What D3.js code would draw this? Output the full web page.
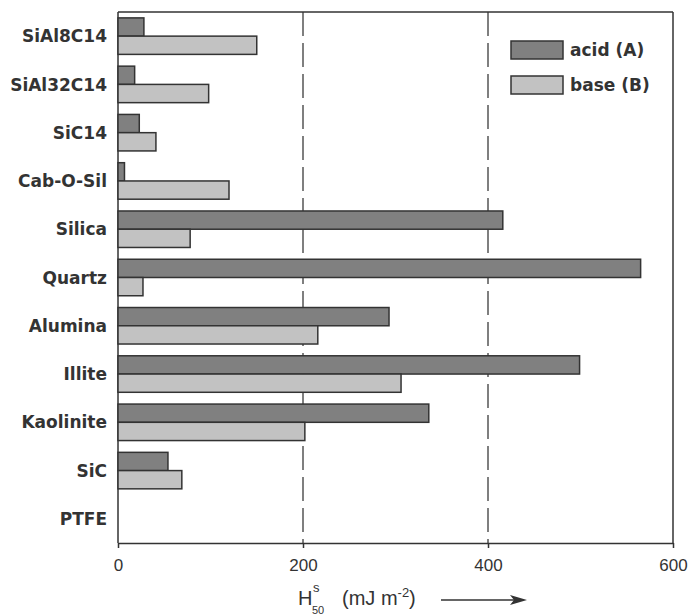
<!DOCTYPE html>
<html>
<head>
<meta charset="utf-8">
<script src="https://cdn.jsdelivr.net/npm/d3@7/dist/d3.min.js"></script>
<style>
  html, body { margin: 0; padding: 0; background: #fff; }
  svg { display: block; }
</style>
</head>
<body>
<svg id="chart" width="690" height="615"></svg>
<script>
const categories = ['SiAl8C14', 'SiAl32C14', 'SiC14', 'Cab-O-Sil', 'Silica', 'Quartz',
  'Alumina', 'Illite', 'Kaolinite', 'SiC', 'PTFE'];
const acidValues = [28, 18, 23, 7, 416, 565, 293, 499, 336, 54, 0];
const baseValues = [150, 98, 41, 120, 78, 27, 216, 306, 202, 69, 0];
const seriesNames = ['acid (A)', 'base (B)'];
const xTicks = [0, 200, 400, 600];
const refLines = [200, 400];

(function drawChart() {
  const margin = { top: 12, right: 17, bottom: 72, left: 118 };
  const width = 690, height = 615;
  const innerW = width - margin.left - margin.right;
  const innerH = height - margin.top - margin.bottom;
  const colors = ['#808080', '#c2c2c2'];
  const ink = '#333';

  const svg = d3.select('#chart');
  const g = svg.append('g').attr('transform', `translate(${margin.left},${margin.top})`);

  const x = d3.scaleLinear().domain([0, 600]).range([0, innerW]);
  const y = d3.scaleBand().domain(categories).range([0, innerH])
    .paddingInner(0.244).paddingOuter(0.122);
  const ySub = d3.scaleBand().domain(seriesNames).range([0, y.bandwidth()]);

  // dashed reference lines
  g.selectAll('line.ref')
    .data(refLines)
    .join('line')
    .attr('class', 'ref')
    .attr('x1', (d) => x(d)).attr('x2', (d) => x(d))
    .attr('y1', 0).attr('y2', innerH)
    .attr('stroke', '#555')
    .attr('stroke-width', 1.5)
    .attr('stroke-dasharray', '24,7');

  // frame
  g.append('line').attr('x1', 0).attr('x2', innerW).attr('y1', 0).attr('y2', 0)
    .attr('stroke', ink).attr('stroke-width', 1.5);
  g.append('line').attr('x1', innerW).attr('x2', innerW).attr('y1', 0).attr('y2', innerH)
    .attr('stroke', ink).attr('stroke-width', 1.5);
  g.append('line').attr('x1', 0).attr('x2', 0).attr('y1', 0).attr('y2', innerH)
    .attr('stroke', ink).attr('stroke-width', 1.5);

  // bars
  const rows = categories.map((c, i) => ({ cat: c, vals: [acidValues[i], baseValues[i]] }));
  const groups = g.selectAll('g.row')
    .data(rows)
    .join('g')
    .attr('class', 'row')
    .attr('transform', (d) => `translate(0,${y(d.cat)})`);

  groups.selectAll('rect')
    .data((d) => d.vals.map((v, k) => ({ v, k })).filter((e) => e.v > 0))
    .join('rect')
    .attr('x', 0)
    .attr('y', (e) => ySub(seriesNames[e.k]))
    .attr('width', (e) => x(e.v))
    .attr('height', ySub.bandwidth())
    .attr('fill', (e) => colors[e.k])
    .attr('stroke', ink)
    .attr('stroke-width', 1.5);

  // category labels
  g.selectAll('text.cat')
    .data(categories)
    .join('text')
    .attr('class', 'cat')
    .attr('x', -11)
    .attr('y', (d) => y(d) + y.bandwidth() / 2)
    .attr('dy', '0.36em')
    .attr('text-anchor', 'end')
    .attr('font-family', 'DejaVu Sans, sans-serif')
    .attr('font-weight', 'bold')
    .attr('font-size', 17)
    .attr('fill', ink)
    .text((d) => d);

  // x axis
  const xAxis = g.append('g')
    .attr('transform', `translate(0,${innerH})`)
    .call(d3.axisBottom(x).tickValues(xTicks).tickSize(5).tickSizeOuter(0).tickPadding(11));
  xAxis.select('.domain').attr('stroke', ink).attr('stroke-width', 1.5);
  xAxis.selectAll('.tick line').attr('stroke', ink).attr('stroke-width', 1.5);
  xAxis.selectAll('.tick text')
    .attr('font-family', 'Liberation Sans, sans-serif')
    .attr('font-size', 17)
    .attr('fill', ink);

  // axis title
  const t = svg.append('g').attr('fill', ink).attr('font-family', 'Liberation Sans, sans-serif');
  t.append('text').attr('x', 298).attr('y', 605).attr('font-size', 20).text('H');
  t.append('text').attr('x', 313).attr('y', 592).attr('font-size', 13).text('s');
  t.append('text').attr('x', 312).attr('y', 614).attr('font-size', 11).text('50');
  const unit = t.append('text').attr('x', 342).attr('y', 605).attr('font-size', 20);
  unit.append('tspan').text('(mJ m');
  unit.append('tspan').attr('font-size', 13).attr('dy', -8).text('-2');
  unit.append('tspan').attr('dy', 8).text(')');
  t.append('line').attr('x1', 441).attr('x2', 522).attr('y1', 600).attr('y2', 600)
    .attr('stroke', ink).attr('stroke-width', 1.5);
  t.append('path').attr('d', 'M510,595 L527,600 L510,605 L514,600 Z').attr('fill', ink);

  // legend
  const legend = svg.append('g').attr('transform', 'translate(511,41)');
  const items = legend.selectAll('g')
    .data(seriesNames)
    .join('g')
    .attr('transform', (d, i) => `translate(0,${i * 35})`);
  items.append('rect')
    .attr('width', 52).attr('height', 18)
    .attr('fill', (d, i) => colors[i])
    .attr('stroke', ink).attr('stroke-width', 1.5);
  items.append('text')
    .attr('x', 59).attr('y', 9).attr('dy', '0.36em')
    .attr('font-family', 'DejaVu Sans, sans-serif')
    .attr('font-weight', 'bold')
    .attr('font-size', 17)
    .attr('fill', ink)
    .text((d) => d);
})();
</script>
</body>
</html>
